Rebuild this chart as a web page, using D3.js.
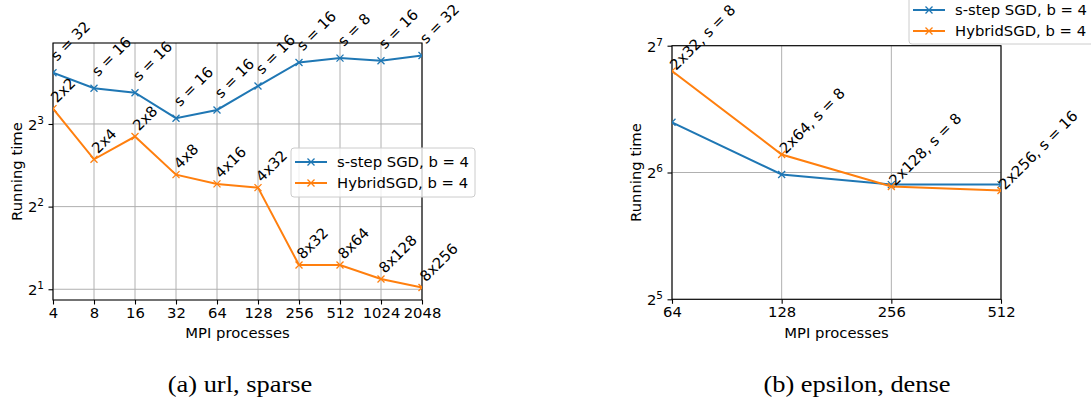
<!DOCTYPE html>
<html><head><meta charset="utf-8">
<script src="https://cdn.jsdelivr.net/npm/d3@7"></script>
<style>body{margin:0;background:#fff}svg{display:block}</style>
</head><body>
<svg id="c" width="1091" height="402" font-family="DejaVu Sans, sans-serif"></svg>
<script>
// ---- data ----
const procsA = [4, 8, 16, 32, 64, 128, 256, 512, 1024, 2048];
const sstepA = [12.3, 10.8, 10.4, 8.4, 9.0, 11.0, 13.4, 13.9, 13.6, 14.2];
const hybridA = [9.1, 5.95, 7.2, 5.23, 4.84, 4.69, 2.45, 2.45, 2.18, 2.03];
const sstepLabelsA = ["s = 32", "s = 16", "s = 16", "s = 16", "s = 16", "s = 16", "s = 16", "s = 8", "s = 16", "s = 32"];
const hybridLabelsA = ["2x2", "2x4", "2x8", "4x8", "4x16", "4x32", "8x32", "8x64", "8x128", "8x256"];
const yTicksA = [2, 4, 8];

const procsB = [64, 128, 256, 512];
const sstepB = [84.2, 63.3, 59.9, 59.9];
const hybridB = [111.4, 70.6, 59.3, 58.0];
const hybridLabelsB = ["2x32, s = 8", "2x64, s = 8", "2x128, s = 8", "2x256, s = 16"];
const yTicksB = [32, 64, 128];

const seriesNames = ["s-step SGD, b = 4", "HybridSGD, b = 4"];
const colors = ["#1f77b4", "#ff7f0e"];
const xLabel = "MPI processes", yLabel = "Running time";
const captions = ["(a) url, sparse", "(b) epsilon, dense"];

const FS = 14.8;
const svg = d3.select("#c");

function panel(cfg) {
  const g = svg.append("g");
  const x = d3.scaleLog().base(2).domain(cfg.xDomain).range(cfg.xRange);
  const y = d3.scaleLog().base(2).domain(cfg.yDomain).range(cfg.yRange);
  const [x0, x1] = cfg.xRange, [y0, y1] = cfg.yRange; // y0 bottom
  const id = "clip" + cfg.id;
  svg.append("clipPath").attr("id", id).append("rect")
    .attr("x", x0).attr("y", y1).attr("width", x1 - x0).attr("height", y0 - y1);
  // grid
  g.append("g").selectAll("line").data(cfg.procs).join("line")
    .attr("x1", d => x(d)).attr("x2", d => x(d)).attr("y1", y0).attr("y2", y1)
    .attr("stroke", "#b0b0b0").attr("stroke-width", 1);
  g.append("g").selectAll("line").data(cfg.yTicks).join("line")
    .attr("x1", x0).attr("x2", x1).attr("y1", d => y(d)).attr("y2", d => y(d))
    .attr("stroke", "#b0b0b0").attr("stroke-width", 1);
  // axes
  const xa = g.append("g").attr("transform", `translate(0,${y0})`)
    .call(d3.axisBottom(x).tickValues(cfg.procs).tickFormat(d3.format("d")).tickSize(4.5).tickPadding(2.5).tickSizeOuter(0));
  const ya = g.append("g").attr("transform", `translate(${x0},0)`)
    .call(d3.axisLeft(y).tickValues(cfg.yTicks).tickSize(4.5).tickPadding(4.5).tickSizeOuter(0).tickFormat(""));
  [xa, ya].forEach(a => {
    a.attr("font-family", null).attr("font-size", null);
    a.select(".domain").remove();
    a.selectAll("line").attr("stroke", "#000").attr("stroke-width", 1.1);
    a.selectAll("text").attr("font-size", FS).attr("fill", "#000");
  });
  ya.selectAll(".tick text").each(function(d) {
    const t = d3.select(this).attr("dy", "0.36em");
    t.append("tspan").text("2");
    t.append("tspan").attr("font-size", 10.5).attr("dy", -6).text(String(Math.round(Math.log2(d))));
  });
  // frame
  g.append("rect").attr("x", x0).attr("y", y1).attr("width", x1 - x0).attr("height", y0 - y1)
    .attr("fill", "none").attr("stroke", "#000").attr("stroke-width", 1.1);
  // lines
  const line = d3.line().x(d => x(d[0])).y(d => y(d[1]));
  const plot = g.append("g").attr("clip-path", `url(#${id})`);
  cfg.series.forEach((s, i) => {
    const pts = cfg.procs.map((p, j) => [p, s[j]]);
    plot.append("path").attr("d", line(pts)).attr("fill", "none")
      .attr("stroke", colors[i]).attr("stroke-width", 2);
    plot.append("g").selectAll("path").data(pts).join("path")
      .attr("transform", d => `translate(${x(d[0])},${y(d[1])})`)
      .attr("d", "M-3.5,-3.5L3.5,3.5M-3.5,3.5L3.5,-3.5")
      .attr("stroke", colors[i]).attr("stroke-width", 1.3);
  });
  // annotations
  cfg.annots.forEach(a => {
    g.append("g").selectAll("text").data(a.labels).join("text")
      .attr("transform", (d, j) => `translate(${x(cfg.procs[j]) + a.dx},${y(a.vals[j]) + a.dy}) rotate(-45)`)
      .attr("font-size", FS).attr("fill", "#000").text(d => d);
  });
  // axis labels
  g.append("text").attr("x", (x0 + x1) / 2).attr("y", 338).attr("text-anchor", "middle")
    .attr("font-size", FS).text(xLabel);
  g.append("text").attr("transform", `translate(${cfg.yLabelX},${(y0 + y1) / 2}) rotate(-90)`)
    .attr("text-anchor", "middle").attr("font-size", FS).text(yLabel);
  // legend
  const L = cfg.legend;
  const lg = g.append("g");
  lg.append("rect").attr("x", L.x).attr("y", L.y).attr("width", L.w).attr("height", L.h)
    .attr("rx", 3).attr("fill", "#fff").attr("fill-opacity", 0.8).attr("stroke", "#cccccc");
  seriesNames.forEach((n, i) => {
    const yy = L.y + 14 + i * 21;
    lg.append("line").attr("x1", L.x + 4).attr("x2", L.x + 36).attr("y1", yy).attr("y2", yy)
      .attr("stroke", colors[i]).attr("stroke-width", 2);
    lg.append("path").attr("transform", `translate(${L.x + 20},${yy})`)
      .attr("d", "M-3.5,-3.5L3.5,3.5M-3.5,3.5L3.5,-3.5").attr("stroke", colors[i]).attr("stroke-width", 1.3);
    lg.append("text").attr("x", L.x + 46).attr("y", yy).attr("dy", "0.36em")
      .attr("font-size", FS).text(n);
  });
  // caption (serif, slightly wide as in the reference)
  svg.append("text").attr("transform", `translate(${cfg.capX},392) scale(1.15,1)`)
    .attr("text-anchor", "middle")
    .attr("font-family", "Liberation Serif, Times New Roman, serif").attr("font-size", 23).text(cfg.caption);
}

panel({
  id: "a", procs: procsA, series: [sstepA, hybridA], yTicks: yTicksA,
  xDomain: [4, 2048], xRange: [53, 422],
  yDomain: [Math.pow(2, 0.87), Math.pow(2, 3.98)], yRange: [300, 43],
  annots: [{labels: sstepLabelsA, vals: sstepA, dx: 4, dy: -11},
           {labels: hybridLabelsA, vals: hybridA, dx: 4, dy: -5}],
  yLabelX: 22, legend: {x: 291, y: 148, w: 184, h: 49},
  caption: captions[0], capX: 240
});
panel({
  id: "b", procs: procsB, series: [sstepB, hybridB], yTicks: yTicksB,
  xDomain: [64, 512], xRange: [672, 1001],
  yDomain: [32, 128], yRange: [299.3, 45.7],
  annots: [{labels: hybridLabelsB, vals: hybridB, dx: 4, dy: 0}],
  yLabelX: 641, legend: {x: 909, y: -4, w: 190, h: 48},
  caption: captions[1], capX: 857
});
</script>
</body></html>
